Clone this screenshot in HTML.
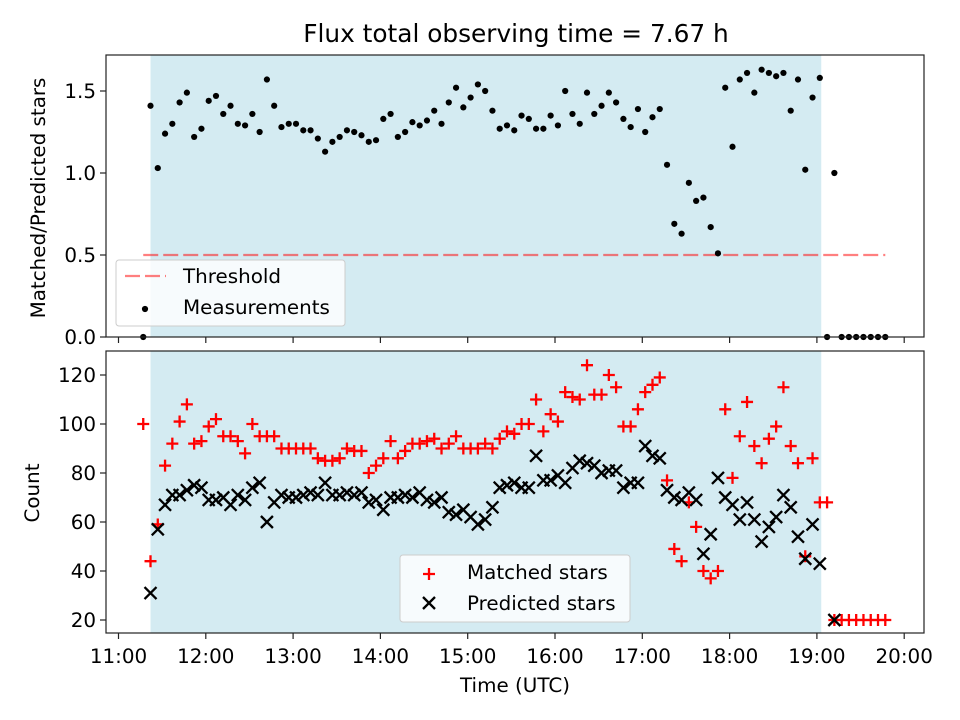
<!DOCTYPE html>
<html><head><meta charset="utf-8"><style>
body{margin:0;background:#fff}
svg{display:block;font-family:"DejaVu Sans","Liberation Sans",sans-serif}
</style></head><body>
<svg id="chart" width="960" height="720" viewBox="0 0 960 720"></svg>
<script>
const times=["11:17","11:22","11:27","11:32","11:37","11:42","11:47","11:52","11:57",
"12:02","12:07","12:12","12:17","12:22","12:27","12:32","12:37","12:42","12:47","12:52","12:57",
"13:02","13:07","13:12","13:17","13:22","13:27","13:32","13:37","13:42","13:47","13:52","13:57",
"14:02","14:07","14:12","14:17","14:22","14:27","14:32","14:37","14:42","14:47","14:52","14:57",
"15:02","15:07","15:12","15:17","15:22","15:27","15:32","15:37","15:42","15:47","15:52","15:57",
"16:02","16:07","16:12","16:17","16:22","16:27","16:32","16:37","16:42","16:47","16:52","16:57",
"17:02","17:07","17:12","17:17","17:22","17:27","17:32","17:37","17:42","17:47","17:52","17:57",
"18:02","18:07","18:12","18:17","18:22","18:27","18:32","18:37","18:42","18:47","18:52","18:57",
"19:02","19:07","19:12","19:17","19:22","19:27","19:32","19:37","19:42","19:47"];
const ratio=[0,1.41,1.03,1.24,1.30,1.43,1.49,1.22,1.27,1.44,1.47,1.36,1.41,1.30,1.29,1.36,1.25,1.57,1.41,1.28,1.30,1.30,1.26,1.26,1.21,1.13,1.19,1.22,1.26,1.25,1.23,1.19,1.20,1.33,1.36,1.22,1.25,1.31,1.29,1.32,1.38,1.30,1.43,1.52,1.40,1.46,1.54,1.50,1.38,1.27,1.29,1.26,1.35,1.33,1.27,1.27,1.35,1.29,1.50,1.36,1.30,1.49,1.36,1.41,1.49,1.43,1.33,1.28,1.39,1.25,1.34,1.39,1.05,0.69,0.63,0.94,0.83,0.85,0.67,0.51,1.52,1.16,1.57,1.61,1.49,1.63,1.61,1.59,1.61,1.38,1.57,1.02,1.46,1.58,0,1.0,0,0,0,0,0,0,0];
const matched=[100,44,59,83,92,101,108,92,93,99,102,95,95,93,88,100,95,95,95,90,90,90,90,90,86,85,85,86,90,89,89,80,83,86,93,86,89,92,92,93,94,90,92,95,90,90,90,92,90,94,97,96,100,100,110,97,104,101,113,111,110,124,112,112,120,115,99,99,106,113,116,119,77,49,44,68,58,40,37,40,106,78,95,109,91,84,94,99,115,91,84,46,86,68,68,20,20,20,20,20,20,20,20];
const predicted=[null,31,57,67,71,71,73,75,74,69,69,70,67,71,69,74,76,60,68,71,70,70,71,72,71,76,71,71,72,71,72,68,69,65,70,70,71,70,72,69,68,70,64,63,65,62,59,61,66,74,75,76,74,74,87,77,77,79,76,82,85,84,83,80,81,81,74,76,76,91,87,86,73,70,69,72,69,47,55,78,70,67,61,68,61,52,58,62,71,66,54,45,59,43,null,20,null,null,null,null,null,null,null];
const yTopTicks=[0,0.5,1.0,1.5];
const yBotTicks=[20,40,60,80,100,120];
const xTicks=["11:00","12:00","13:00","14:00","15:00","16:00","17:00","18:00","19:00","20:00"];
const threshold=0.5;
const shadeStart="11:22", shadeEnd="19:03";
const thrStart="11:17", thrEnd="19:47";

const NS="http://www.w3.org/2000/svg";
const svg=document.getElementById('chart');
function mk(t,a,p){const e=document.createElementNS(NS,t);for(const k in a)e.setAttribute(k,a[k]);(p||svg).appendChild(e);return e;}
function mins(s){const [h,m]=s.split(':').map(Number);return (h-11)*60+m;}
const L=106,R=924,T1=55,B1=337,T2=351,B2=633;
const FS=19.9;
const DASH='15,5';
const x=s=>118.5+mins(s)*87.3/60;
const y1=v=>337-v*164;
const y2=v=>620-(v-20)*2.45;

let t=mk('text',{x:516,y:42,'text-anchor':'middle','font-size':'24.8','fill':'#000'});t.textContent='Flux total observing time = 7.67 h';



function panel(top,bot,name){
  const g=mk('g',{});
  
  
  const sh=mk('rect',{x:x(shadeStart),y:top,width:x(shadeEnd)-x(shadeStart),height:bot-top,fill:'#add8e6','fill-opacity':0.52},g);
  
  
  return g;
}
const g1=panel(T1,B1,'top-panel');
const g2=panel(T2,B2,'bottom-panel');

const thr=mk('line',{x1:x(thrStart),x2:x(thrEnd),y1:y1(threshold),y2:y1(threshold),stroke:'#ff0000','stroke-opacity':0.5,'stroke-width':2.3,'stroke-dasharray':DASH},g1);



ratio.forEach((v,i)=>{if(v===null)return;
  const c=mk('circle',{cx:x(times[i]),cy:y1(v),r:3.1,fill:'#000'},g1);
  
  
});
matched.forEach((v,i)=>{if(v===null)return;
  const cx=x(times[i]),cy=y2(v);
  const p=mk('path',{d:`M${cx-6},${cy}H${cx+6}M${cx},${cy-6}V${cy+6}`,stroke:'#ff0000','stroke-width':2.3,fill:'none'},g2);
  
  
});
predicted.forEach((v,i)=>{if(v===null)return;
  const cx=x(times[i]),cy=y2(v);
  const p=mk('path',{d:`M${cx-6},${cy-6}L${cx+6},${cy+6}M${cx-6},${cy+6}L${cx+6},${cy-6}`,stroke:'#000','stroke-width':2.3,fill:'none'},g2);
  
  
});

[[T1,B1],[T2,B2]].forEach(([a,b])=>{
  const f=mk('rect',{x:L,y:a,width:R-L,height:b-a,fill:'none',stroke:'#222','stroke-width':1.2});
  
  
});
xTicks.forEach(s=>{
  const px=x(s);
  mk('line',{x1:px,x2:px,y1:B1,y2:B1+6,stroke:'#222','stroke-width':1.2});
  mk('line',{x1:px,x2:px,y1:B2,y2:B2+6,stroke:'#222','stroke-width':1.2});
  const tx=mk('text',{x:px,y:663,'text-anchor':'middle','font-size':FS});tx.textContent=s;
  
  
});
yTopTicks.forEach(v=>{
  const py=y1(v);
  mk('line',{x1:L-6,x2:L,y1:py,y2:py,stroke:'#222','stroke-width':1.2});
  const tx=mk('text',{x:L-10,y:py+7,'text-anchor':'end','font-size':FS});tx.textContent=v.toFixed(1);
  
  
});
yBotTicks.forEach(v=>{
  const py=y2(v);
  mk('line',{x1:L-6,x2:L,y1:py,y2:py,stroke:'#222','stroke-width':1.2});
  const tx=mk('text',{x:L-10,y:py+7,'text-anchor':'end','font-size':FS});tx.textContent=v;
  
  
});
let at=mk('text',{x:515,y:692,'text-anchor':'middle','font-size':FS});at.textContent='Time (UTC)';


at=mk('text',{x:45,y:198,'text-anchor':'middle','font-size':FS,transform:'rotate(-90 45 198)'});at.textContent='Matched/Predicted stars';


at=mk('text',{x:39,y:493,'text-anchor':'middle','font-size':FS,transform:'rotate(-90 39 493)'});at.textContent='Count';



const lg1=mk('g',{});


mk('rect',{x:116,y:260,width:229,height:66,rx:3,fill:'#fff','fill-opacity':0.8,stroke:'#ccc'},lg1);
mk('line',{x1:125,x2:166,y1:276,y2:276,stroke:'#ff0000','stroke-opacity':0.5,'stroke-width':2.3,'stroke-dasharray':DASH},lg1);
let lt=mk('text',{x:183,y:283,'font-size':FS},lg1);lt.textContent='Threshold';
mk('circle',{cx:145,cy:309,r:3.1,fill:'#000'},lg1);
lt=mk('text',{x:183,y:314,'font-size':FS},lg1);lt.textContent='Measurements';
const lg2=mk('g',{});


mk('rect',{x:400,y:555,width:230,height:67,rx:3,fill:'#fff','fill-opacity':0.8,stroke:'#ccc'},lg2);
mk('path',{d:'M423,574H435M429,568V580',stroke:'#ff0000','stroke-width':2.3},lg2);
lt=mk('text',{x:467,y:579,'font-size':FS},lg2);lt.textContent='Matched stars';
mk('path',{d:'M423,597L435,609M423,609L435,597',stroke:'#000','stroke-width':2.3},lg2);
lt=mk('text',{x:467,y:610,'font-size':FS},lg2);lt.textContent='Predicted stars';
</script>
</body></html>
